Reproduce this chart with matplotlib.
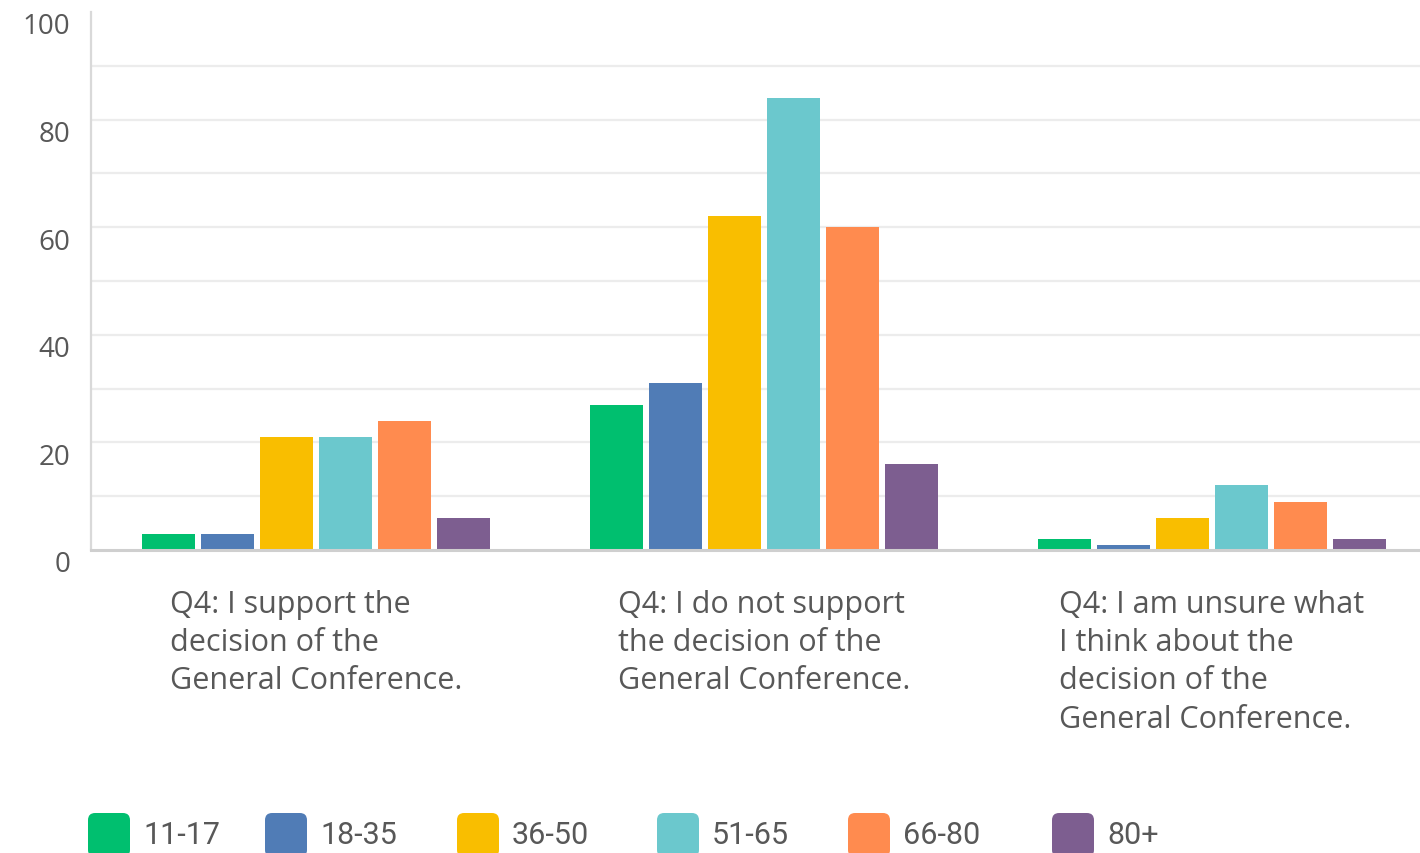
import numpy as np
import matplotlib
matplotlib.use("Agg")
import matplotlib.pyplot as plt
from matplotlib.transforms import ScaledTranslation
from matplotlib.patches import FancyBboxPatch

# ---- data ----
categories = [
    "Q4: I support the\ndecision of the\nGeneral Conference.",
    "Q4: I do not support\nthe decision of the\nGeneral Conference.",
    "Q4: I am unsure what\nI think about the\ndecision of the\nGeneral Conference.",
]
series_names = ["11-17", "18-35", "36-50", "51-65", "66-80", "80+"]
age_11_17 = [3, 27, 2]
age_18_35 = [3, 31, 1]
age_36_50 = [21, 62, 6]
age_51_65 = [21, 84, 12]
age_66_80 = [24, 60, 9]
age_80_plus = [6, 16, 2]
series_values = [age_11_17, age_18_35, age_36_50, age_51_65, age_66_80, age_80_plus]
colors = ["#00BF6F", "#507CB6", "#F9BE00", "#6BC8CD", "#FF8B4F", "#7D5E90"]
yticks_major = [0, 20, 40, 60, 80, 100]

# ---- figure ----
W, H = 1420, 854
fig = plt.figure(figsize=(W / 100, H / 100), dpi=100)
ax_left, ax_right = 91, 1420
ax_top, ax_bottom = 13, 551
ax = fig.add_axes([ax_left / W, (H - ax_bottom) / H,
                   (ax_right - ax_left) / W, (ax_bottom - ax_top) / H])

font = "Open Sans"
text_color = "#585858"

x = np.arange(len(categories))
pitch = 0.132
width = 0.118
n = len(series_names)
for i, (name, vals, c) in enumerate(zip(series_names, series_values, colors)):
    ax.bar(x + (i - (n - 1) / 2) * pitch, vals, width=width, color=c,
           label=name, zorder=3)

ax.set_ylim(0, 100)
ax.set_xlim((ax_left - 316) / 448, (ax_right - 316) / 448)

# grid every 10, labels every 20
ax.set_yticks(np.arange(0, 101, 10))
ax.set_yticklabels([str(v) if v in yticks_major else "" for v in range(0, 101, 10)],
                   fontfamily=font, fontsize=20, color=text_color)
ax.tick_params(axis="y", length=0, pad=15)
ax.tick_params(axis="x", length=0, labelbottom=False)
ax.grid(axis="y", color="#ececec", linewidth=1.6, zorder=0)
ax.yaxis.get_gridlines()[-1].set_visible(False)
ax.yaxis.get_gridlines()[0].set_visible(False)
offset = ScaledTranslation(0, -11 / 100, fig.dpi_scale_trans)
for lab in ax.get_yticklabels():
    lab.set_transform(lab.get_transform() + offset)

for s in ["top", "right"]:
    ax.spines[s].set_visible(False)
ax.spines["left"].set_color("#d9d9d9")
ax.spines["left"].set_linewidth(1.6)
ax.spines["bottom"].set_color("#cfcfcf")
ax.spines["bottom"].set_linewidth(2.2)
ax.spines["bottom"].set_zorder(4)

# category labels (block centred under each group, lines left-aligned)
for xi, cat in zip(x, categories):
    ax.text(xi, -7.2, cat, ha="center", va="top", multialignment="left",
            fontfamily=font, fontsize=22, color=text_color,
            linespacing=1.36, clip_on=False)

# legend at bottom
legend_left = [88, 265, 457, 657, 848, 1052]
sq_w, sq_h = 42, 44
sq_top = 814
for lx, name, c in zip(legend_left, series_names, colors):
    p = FancyBboxPatch((lx / W, (H - sq_top - sq_h) / H), sq_w / W, sq_h / H,
                       boxstyle="round,pad=0,rounding_size=0.005",
                       transform=fig.transFigure, facecolor=c, edgecolor="none",
                       mutation_aspect=W / H)
    fig.patches.append(p)
    fig.text((lx + sq_w + 13) / W, (H - 836) / H, name, ha="left", va="center",
             fontfamily="Roboto", fontsize=22, color=text_color)

fig.savefig("out.png", dpi=100, facecolor="white")
